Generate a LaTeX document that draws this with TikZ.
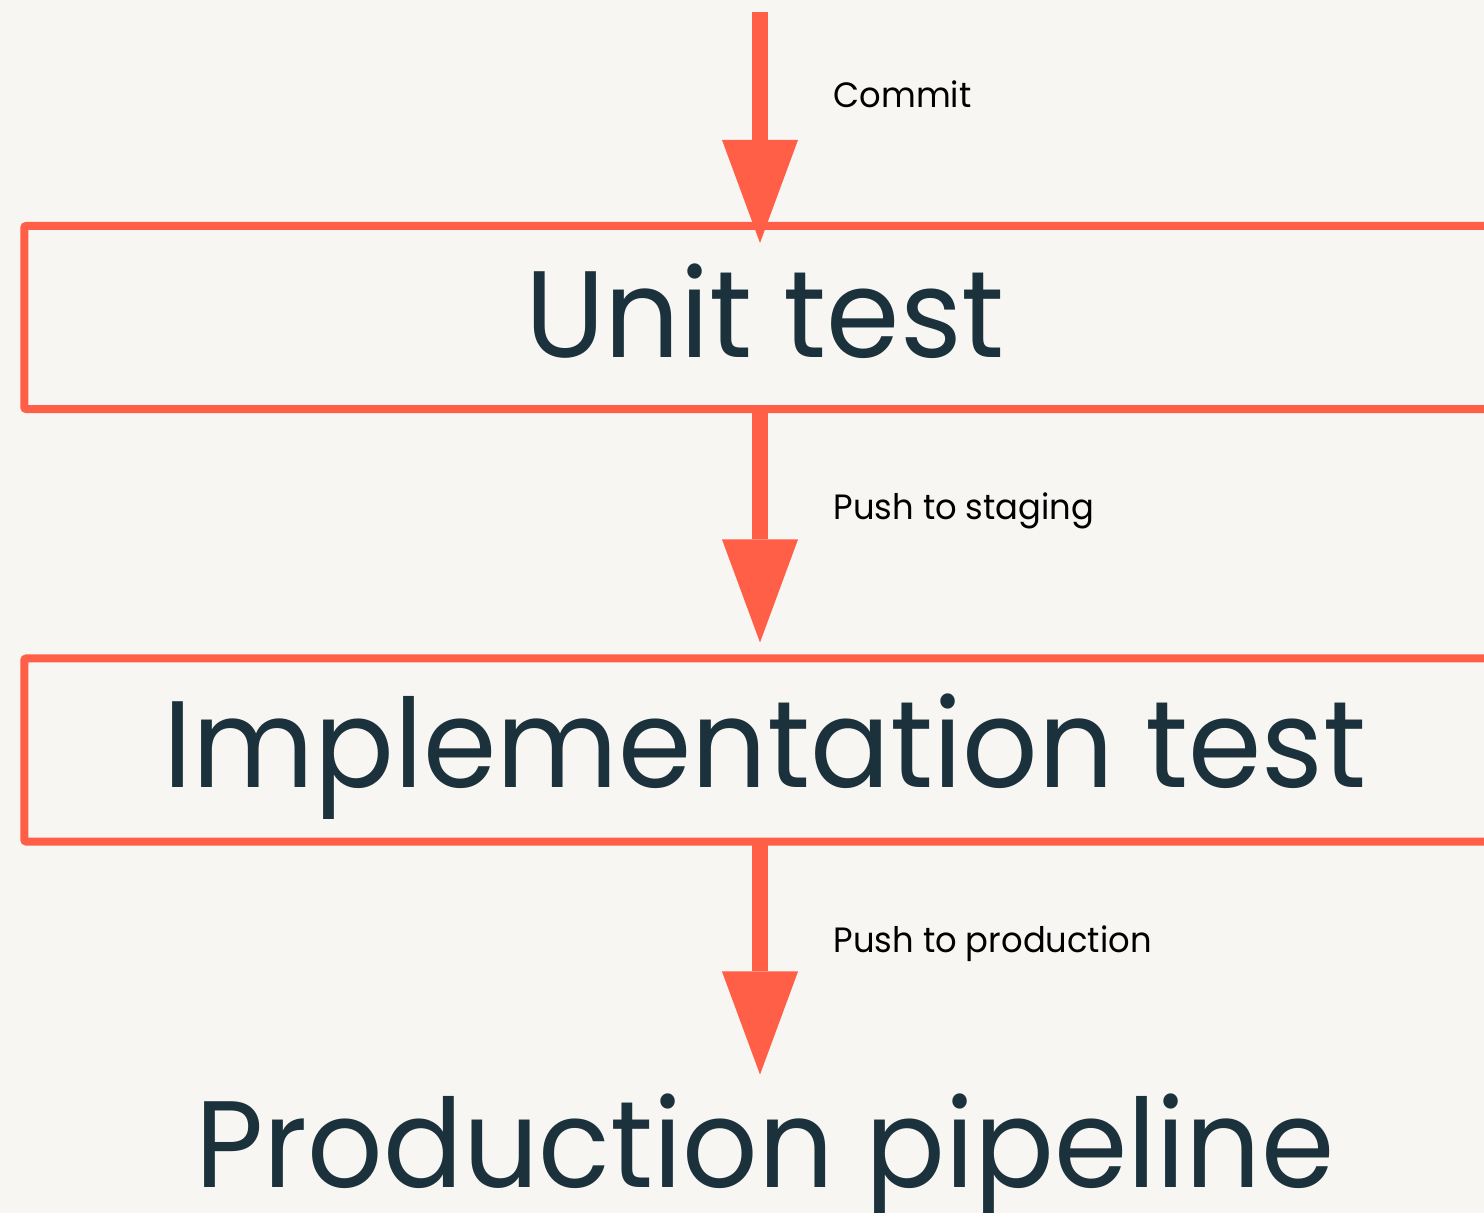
\documentclass[tikz,border=0pt]{standalone}
\usepackage{fontspec}
\setmainfont{Poppins}[FakeStretch=0.96]
\usetikzlibrary{arrows.meta,calc}
\definecolor{bg}{RGB}{248,246,242}
\definecolor{accent}{RGB}{255,95,70}
\definecolor{ink}{RGB}{27,49,59}
\begin{document}
\begin{tikzpicture}[x=0.01cm,y=-0.01cm,
  stagebox/.style={draw=accent,line width=2.28pt,rounded corners=0.6pt,rectangle,minimum width=14.9cm,minimum height=1.83cm,inner sep=0pt,outer sep=0pt},
  bigtext/.style={text=ink,font=\fontsize{35pt}{38pt}\selectfont,anchor=base,inner sep=0pt},
  flowlabel/.style={text=black,font=\fontsize{10pt}{12pt}\selectfont,anchor=base west,inner sep=0pt},
  flow/.style={draw=accent,line width=4.55pt,-{Triangle[width=0.76cm,length=1.03cm,line width=0pt]}}]
\fill[bg] (0,0) rectangle (1484,1213);
\useasboundingbox (0,0) rectangle (1484,1213);
\node[stagebox] (unitbox) at (769.7,317.5) {};
\node[stagebox] (implbox) at (769.7,750) {};
\node[bigtext] (unit) at (765,358) {Unit test};
\node[bigtext] (impl) at (765,788) {Implementation test};
\node[bigtext] (prod) at (765,1188) {Production pipeline};
\coordinate (start) at (760,12);
\draw[flow] (start) -- ($(unitbox.north -| start)+(0,17)$);
\draw[flow] (unitbox.south -| start) -- ($(implbox.north -| start)+(0,-16)$);
\draw[flow] (implbox.south -| start) -- ($(implbox.south -| start)+(0,233)$);
\node[flowlabel] (lcommit) at (833,108) {Commit};
\node[flowlabel] (lstaging) at (833,520) {Push to staging};
\node[flowlabel] (lprod) at (833,953) {Push to production};
\end{tikzpicture}
\end{document}
